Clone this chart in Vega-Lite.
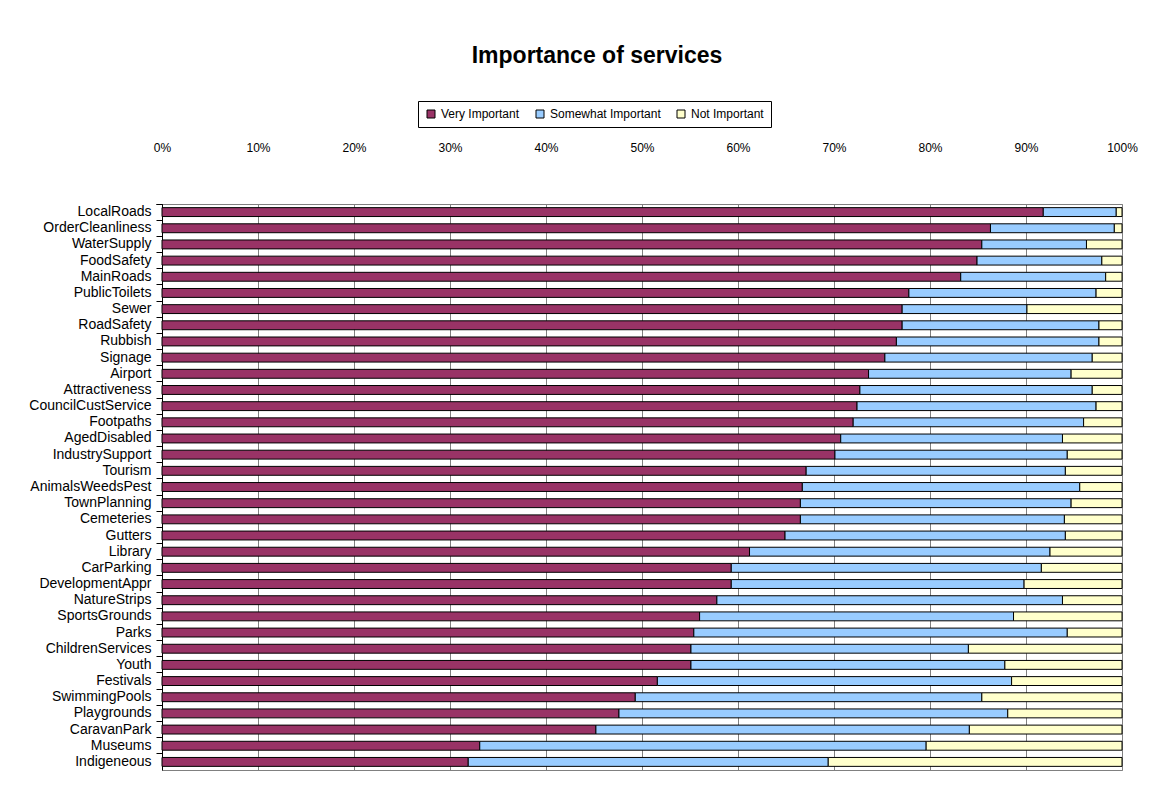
{
  "$schema": "https://vega.github.io/schema/vega-lite/v6.json",
  "autosize": {"type": "none"},
  "width": 960,
  "height": 566,
  "padding": {"left": 162, "top": 204, "right": 40, "bottom": 19},
  "background": "white",
  "title": {"text": "Importance of services", "anchor": "middle", "frame": "group", "fontSize": 23, "font": "Liberation Sans", "fontWeight": "bold", "color": "black", "dx": -45, "offset": 33},
  "config": {"view": {"stroke": "#808080", "strokeWidth": 1}},
  "data": {"values": [
    {"s":"LocalRoads","c":"Very Important","r":1,"v":91.8},{"s":"LocalRoads","c":"Somewhat Important","r":2,"v":7.6},{"s":"LocalRoads","c":"Not Important","r":3,"v":0.6},
    {"s":"OrderCleanliness","c":"Very Important","r":1,"v":86.3},{"s":"OrderCleanliness","c":"Somewhat Important","r":2,"v":12.9},{"s":"OrderCleanliness","c":"Not Important","r":3,"v":0.8},
    {"s":"WaterSupply","c":"Very Important","r":1,"v":85.4},{"s":"WaterSupply","c":"Somewhat Important","r":2,"v":10.9},{"s":"WaterSupply","c":"Not Important","r":3,"v":3.7},
    {"s":"FoodSafety","c":"Very Important","r":1,"v":84.9},{"s":"FoodSafety","c":"Somewhat Important","r":2,"v":13.0},{"s":"FoodSafety","c":"Not Important","r":3,"v":2.1},
    {"s":"MainRoads","c":"Very Important","r":1,"v":83.2},{"s":"MainRoads","c":"Somewhat Important","r":2,"v":15.1},{"s":"MainRoads","c":"Not Important","r":3,"v":1.7},
    {"s":"PublicToilets","c":"Very Important","r":1,"v":77.8},{"s":"PublicToilets","c":"Somewhat Important","r":2,"v":19.5},{"s":"PublicToilets","c":"Not Important","r":3,"v":2.7},
    {"s":"Sewer","c":"Very Important","r":1,"v":77.1},{"s":"Sewer","c":"Somewhat Important","r":2,"v":13.0},{"s":"Sewer","c":"Not Important","r":3,"v":9.9},
    {"s":"RoadSafety","c":"Very Important","r":1,"v":77.1},{"s":"RoadSafety","c":"Somewhat Important","r":2,"v":20.5},{"s":"RoadSafety","c":"Not Important","r":3,"v":2.4},
    {"s":"Rubbish","c":"Very Important","r":1,"v":76.5},{"s":"Rubbish","c":"Somewhat Important","r":2,"v":21.1},{"s":"Rubbish","c":"Not Important","r":3,"v":2.4},
    {"s":"Signage","c":"Very Important","r":1,"v":75.3},{"s":"Signage","c":"Somewhat Important","r":2,"v":21.6},{"s":"Signage","c":"Not Important","r":3,"v":3.1},
    {"s":"Airport","c":"Very Important","r":1,"v":73.6},{"s":"Airport","c":"Somewhat Important","r":2,"v":21.1},{"s":"Airport","c":"Not Important","r":3,"v":5.3},
    {"s":"Attractiveness","c":"Very Important","r":1,"v":72.7},{"s":"Attractiveness","c":"Somewhat Important","r":2,"v":24.2},{"s":"Attractiveness","c":"Not Important","r":3,"v":3.1},
    {"s":"CouncilCustService","c":"Very Important","r":1,"v":72.4},{"s":"CouncilCustService","c":"Somewhat Important","r":2,"v":24.9},{"s":"CouncilCustService","c":"Not Important","r":3,"v":2.7},
    {"s":"Footpaths","c":"Very Important","r":1,"v":72.0},{"s":"Footpaths","c":"Somewhat Important","r":2,"v":24.0},{"s":"Footpaths","c":"Not Important","r":3,"v":4.0},
    {"s":"AgedDisabled","c":"Very Important","r":1,"v":70.7},{"s":"AgedDisabled","c":"Somewhat Important","r":2,"v":23.1},{"s":"AgedDisabled","c":"Not Important","r":3,"v":6.2},
    {"s":"IndustrySupport","c":"Very Important","r":1,"v":70.1},{"s":"IndustrySupport","c":"Somewhat Important","r":2,"v":24.2},{"s":"IndustrySupport","c":"Not Important","r":3,"v":5.7},
    {"s":"Tourism","c":"Very Important","r":1,"v":67.1},{"s":"Tourism","c":"Somewhat Important","r":2,"v":27.0},{"s":"Tourism","c":"Not Important","r":3,"v":5.9},
    {"s":"AnimalsWeedsPest","c":"Very Important","r":1,"v":66.7},{"s":"AnimalsWeedsPest","c":"Somewhat Important","r":2,"v":28.9},{"s":"AnimalsWeedsPest","c":"Not Important","r":3,"v":4.4},
    {"s":"TownPlanning","c":"Very Important","r":1,"v":66.5},{"s":"TownPlanning","c":"Somewhat Important","r":2,"v":28.2},{"s":"TownPlanning","c":"Not Important","r":3,"v":5.3},
    {"s":"Cemeteries","c":"Very Important","r":1,"v":66.5},{"s":"Cemeteries","c":"Somewhat Important","r":2,"v":27.5},{"s":"Cemeteries","c":"Not Important","r":3,"v":6.0},
    {"s":"Gutters","c":"Very Important","r":1,"v":64.9},{"s":"Gutters","c":"Somewhat Important","r":2,"v":29.2},{"s":"Gutters","c":"Not Important","r":3,"v":5.9},
    {"s":"Library","c":"Very Important","r":1,"v":61.2},{"s":"Library","c":"Somewhat Important","r":2,"v":31.3},{"s":"Library","c":"Not Important","r":3,"v":7.5},
    {"s":"CarParking","c":"Very Important","r":1,"v":59.3},{"s":"CarParking","c":"Somewhat Important","r":2,"v":32.3},{"s":"CarParking","c":"Not Important","r":3,"v":8.4},
    {"s":"DevelopmentAppr","c":"Very Important","r":1,"v":59.3},{"s":"DevelopmentAppr","c":"Somewhat Important","r":2,"v":30.5},{"s":"DevelopmentAppr","c":"Not Important","r":3,"v":10.2},
    {"s":"NatureStrips","c":"Very Important","r":1,"v":57.8},{"s":"NatureStrips","c":"Somewhat Important","r":2,"v":36.0},{"s":"NatureStrips","c":"Not Important","r":3,"v":6.2},
    {"s":"SportsGrounds","c":"Very Important","r":1,"v":56.0},{"s":"SportsGrounds","c":"Somewhat Important","r":2,"v":32.7},{"s":"SportsGrounds","c":"Not Important","r":3,"v":11.3},
    {"s":"Parks","c":"Very Important","r":1,"v":55.4},{"s":"Parks","c":"Somewhat Important","r":2,"v":38.9},{"s":"Parks","c":"Not Important","r":3,"v":5.7},
    {"s":"ChildrenServices","c":"Very Important","r":1,"v":55.1},{"s":"ChildrenServices","c":"Somewhat Important","r":2,"v":28.9},{"s":"ChildrenServices","c":"Not Important","r":3,"v":16.0},
    {"s":"Youth","c":"Very Important","r":1,"v":55.1},{"s":"Youth","c":"Somewhat Important","r":2,"v":32.7},{"s":"Youth","c":"Not Important","r":3,"v":12.2},
    {"s":"Festivals","c":"Very Important","r":1,"v":51.6},{"s":"Festivals","c":"Somewhat Important","r":2,"v":36.9},{"s":"Festivals","c":"Not Important","r":3,"v":11.5},
    {"s":"SwimmingPools","c":"Very Important","r":1,"v":49.3},{"s":"SwimmingPools","c":"Somewhat Important","r":2,"v":36.1},{"s":"SwimmingPools","c":"Not Important","r":3,"v":14.6},
    {"s":"Playgrounds","c":"Very Important","r":1,"v":47.6},{"s":"Playgrounds","c":"Somewhat Important","r":2,"v":40.5},{"s":"Playgrounds","c":"Not Important","r":3,"v":11.9},
    {"s":"CaravanPark","c":"Very Important","r":1,"v":45.2},{"s":"CaravanPark","c":"Somewhat Important","r":2,"v":38.9},{"s":"CaravanPark","c":"Not Important","r":3,"v":15.9},
    {"s":"Museums","c":"Very Important","r":1,"v":33.1},{"s":"Museums","c":"Somewhat Important","r":2,"v":46.5},{"s":"Museums","c":"Not Important","r":3,"v":20.4},
    {"s":"Indigeneous","c":"Very Important","r":1,"v":31.9},{"s":"Indigeneous","c":"Somewhat Important","r":2,"v":37.5},{"s":"Indigeneous","c":"Not Important","r":3,"v":30.6}
  ]},
  "mark": {"type": "bar", "stroke": "black", "strokeWidth": 1, "height": {"band": 0.55}},
  "encoding": {
    "y": {"field": "s", "type": "nominal", "sort": null,
      "scale": {"paddingInner": 0, "paddingOuter": 0},
      "axis": {"title": null, "domainColor": "black", "tickColor": "black", "bandPosition": 0, "tickExtra": true, "tickSize": 6, "labelPadding": 5, "labelFontSize": 14, "labelFont": "Liberation Sans", "labelColor": "black", "grid": false, "labelLimit": 200}},
    "x": {"field": "v", "type": "quantitative", "stack": "normalize",
      "scale": {"domain": [0, 1], "nice": false},
      "axis": {"orient": "top", "title": null, "format": ".0%", "values": [0, 0.1, 0.2, 0.3, 0.4, 0.5, 0.6, 0.7, 0.8, 0.9, 1], "grid": true, "gridColor": "#808080", "gridOpacity": 1, "domain": false, "ticks": false, "labelPadding": 50, "labelFontSize": 12, "labelFont": "Liberation Sans", "labelColor": "black", "labelFlush": false}},
    "color": {"field": "c", "type": "nominal",
      "scale": {"domain": ["Very Important", "Somewhat Important", "Not Important"], "range": ["#993366", "#99CCFF", "#FFFFCC"]},
      "legend": {"orient": "none", "legendX": 256, "legendY": -103, "direction": "horizontal", "title": null, "strokeColor": "black", "padding": 7, "symbolType": "square", "symbolSize": 64, "symbolStrokeColor": "black", "symbolStrokeWidth": 1, "symbolOpacity": 1, "labelFontSize": 12, "labelFont": "Liberation Sans", "labelColor": "black", "columnPadding": 14}},
    "order": {"field": "r", "type": "quantitative"}
  }
}
